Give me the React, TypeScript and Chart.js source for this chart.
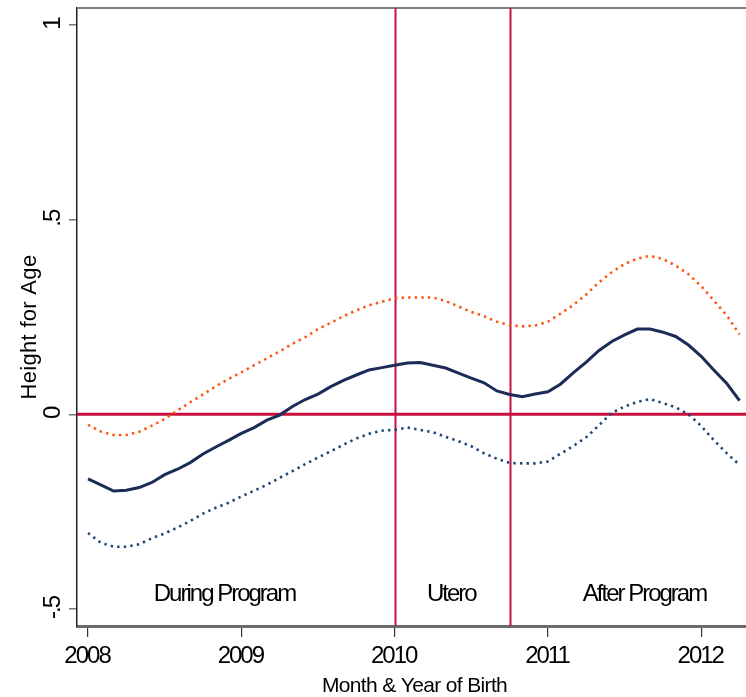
import React, { useEffect, useRef } from "react";
import { Chart, registerables } from "chart.js";

Chart.register(...registerables);

// Monthly births, Jan 2008 .. Apr 2012 (52 months)
const startYear = 2008;
const estimate = [
  -0.166, -0.181, -0.197, -0.195, -0.188, -0.175, -0.155, -0.141, -0.124, -0.102, -0.084, -0.067,
  -0.049, -0.034, -0.015, -0.002, 0.020, 0.038, 0.052, 0.071, 0.087, 0.101, 0.114, 0.120,
  0.126, 0.132, 0.133, 0.126, 0.119, 0.106, 0.093, 0.081, 0.060, 0.051, 0.045, 0.052,
  0.058, 0.078, 0.107, 0.134, 0.164, 0.187, 0.204, 0.219, 0.219, 0.211, 0.200, 0.178,
  0.149, 0.113, 0.079, 0.035,
];
const upperCI = [
  -0.027, -0.044, -0.053, -0.053, -0.045, -0.029, -0.012, 0.010, 0.031, 0.051, 0.072, 0.091,
  0.108, 0.126, 0.144, 0.162, 0.181, 0.198, 0.219, 0.235, 0.252, 0.267, 0.280, 0.289,
  0.298, 0.300, 0.300, 0.300, 0.291, 0.277, 0.263, 0.252, 0.238, 0.229, 0.226, 0.228,
  0.238, 0.259, 0.281, 0.308, 0.339, 0.365, 0.386, 0.400, 0.407, 0.399, 0.382, 0.360,
  0.329, 0.292, 0.254, 0.205,
];
const lowerCI = [
  -0.305, -0.330, -0.340, -0.340, -0.334, -0.318, -0.306, -0.291, -0.274, -0.255, -0.240, -0.227,
  -0.211, -0.196, -0.181, -0.163, -0.146, -0.128, -0.111, -0.095, -0.078, -0.062, -0.050, -0.042,
  -0.040, -0.034, -0.040, -0.046, -0.058, -0.069, -0.082, -0.100, -0.114, -0.125, -0.126, -0.126,
  -0.121, -0.101, -0.081, -0.059, -0.028, 0.004, 0.020, 0.032, 0.039, 0.029, 0.018, 0.000,
  -0.030, -0.067, -0.100, -0.130,
];

const xTicks = [2008, 2009, 2010, 2011, 2012];
const xTickLabels = ["2008", "2009", "2010", "2011", "2012"];
const yTicks = [-0.5, 0, 0.5, 1];
const yTickLabels = ["-.5", "0", ".5", "1"];
const periodLines = [2010, 2010.75];
const periodNames = ["During Program", "Utero", "After Program"];
const periodCenters = [2008.89, 2010.37, 2011.63];
const periodLabelY = -0.48;

const xTitle = "Month & Year of Birth";
const yTitle = "Height for Age";

const FONT = '"Liberation Sans", Arial, Helvetica, sans-serif';
const RED = "#c8103e";

const toPoints = (arr: number[]) =>
  arr.map((v, i) => ({ x: startYear + i / 12, y: v }));

const decorPlugin = {
  id: "decor",
  beforeDatasetsDraw(chart: any) {
    const { ctx, chartArea, scales } = chart;
    const xs = scales.x;
    const ys = scales.y;
    ctx.save();
    ctx.strokeStyle = "#808080";
    ctx.lineWidth = 2;
    ctx.beginPath();
    ctx.moveTo(chartArea.left, chartArea.top);
    ctx.lineTo(chartArea.right, chartArea.top);
    ctx.stroke();
    ctx.strokeStyle = RED;
    ctx.lineWidth = 2;
    periodLines.forEach((v) => {
      const px = Math.round(xs.getPixelForValue(v)) + 0.5;
      ctx.beginPath();
      ctx.moveTo(px, chartArea.top);
      ctx.lineTo(px, chartArea.bottom);
      ctx.stroke();
    });
    ctx.lineWidth = 3;
    const py0 = ys.getPixelForValue(0);
    ctx.beginPath();
    ctx.moveTo(chartArea.left, py0);
    ctx.lineTo(chartArea.right, py0);
    ctx.stroke();
    ctx.restore();
  },
  afterDraw(chart: any) {
    const { ctx, chartArea, scales } = chart;
    const xs = scales.x;
    const ys = scales.y;
    ctx.save();
    ctx.fillStyle = "#000";
    ctx.font = `24px ${FONT}`;
    (ctx as any).letterSpacing = "-2px";
    ctx.textAlign = "center";
    ctx.textBaseline = "alphabetic";
    xTicks.forEach((v, i) => {
      ctx.fillText(xTickLabels[i], xs.getPixelForValue(v) - 1, 663);
    });
    yTicks.forEach((v, i) => {
      ctx.save();
      ctx.translate(59.5, ys.getPixelForValue(v) - 1);
      ctx.rotate(-Math.PI / 2);
      ctx.fillText(yTickLabels[i], 0, 0);
      ctx.restore();
    });
    periodNames.forEach((name, i) => {
      ctx.fillText(name, xs.getPixelForValue(periodCenters[i]), ys.getPixelForValue(periodLabelY));
    });
    ctx.font = `21px ${FONT}`;
    (ctx as any).letterSpacing = "-0.65px";
    ctx.fillText(xTitle, (chartArea.left + chartArea.right) / 2 + 3, 692);
    (ctx as any).letterSpacing = "0.3px";
    ctx.font = `22px ${FONT}`;
    ctx.save();
    ctx.translate(36, 327);
    ctx.rotate(-Math.PI / 2);
    ctx.fillText(yTitle, 0, 0);
    ctx.restore();
    (ctx as any).letterSpacing = "0px";
    ctx.restore();
  },
};

export default function App() {
  const ref = useRef<HTMLCanvasElement | null>(null);
  useEffect(() => {
    if (!ref.current) return;
    const chart = new Chart(ref.current, {
      type: "line",
      data: {
        datasets: [
          {
            label: "Upper CI",
            data: toPoints(upperCI),
            borderColor: "#ff5511",
            borderWidth: 2.6,
            borderDash: [2.4, 4.2],
            pointRadius: 0,
            fill: false,
            tension: 0,
          },
          {
            label: "Lower CI",
            data: toPoints(lowerCI),
            borderColor: "#1f4775",
            borderWidth: 2.6,
            borderDash: [2.4, 4.2],
            pointRadius: 0,
            fill: false,
            tension: 0,
          },
          {
            label: "Estimate",
            data: toPoints(estimate),
            borderColor: "#1c2b57",
            borderWidth: 3,
            pointRadius: 0,
            fill: false,
            tension: 0,
          },
        ],
      },
      options: {
        animation: false,
        responsive: false,
        devicePixelRatio: 1,
        layout: { padding: { top: 8, left: 0, right: 0, bottom: 0 } },
        plugins: { legend: { display: false }, tooltip: { enabled: false } },
        scales: {
          x: {
            type: "linear",
            min: 2007.928,
            max: 2012.292,
            afterBuildTicks: (s: any) => {
              s.ticks = xTicks.map((v) => ({ value: v }));
            },
            afterFit: (s: any) => {
              s.height = 71;
            },
            ticks: { display: false },
            grid: {
              drawOnChartArea: false,
              drawTicks: true,
              tickLength: 11,
              color: "#333",
              lineWidth: 1.2,
            },
            border: { display: true, color: "#6a6a6a", width: 3 },
          },
          y: {
            type: "linear",
            min: -0.5437,
            max: 1.0437,
            afterBuildTicks: (s: any) => {
              s.ticks = yTicks.map((v) => ({ value: v }));
            },
            afterFit: (s: any) => {
              s.width = 77;
            },
            ticks: { display: false },
            grid: {
              drawOnChartArea: false,
              drawTicks: true,
              tickLength: 8,
              color: "#777",
              lineWidth: 1.5,
            },
            border: { display: true, color: "#222", width: 1.5 },
          },
        },
      },
      plugins: [decorPlugin],
    });
    return () => chart.destroy();
  }, []);
  return (
    <div style={{ position: "fixed", left: 0, top: 0, width: 746, height: 697, background: "#fff" }}>
      <canvas ref={ref} width={746} height={697} style={{ display: "block", width: 746, height: 697 }} />
    </div>
  );
}
